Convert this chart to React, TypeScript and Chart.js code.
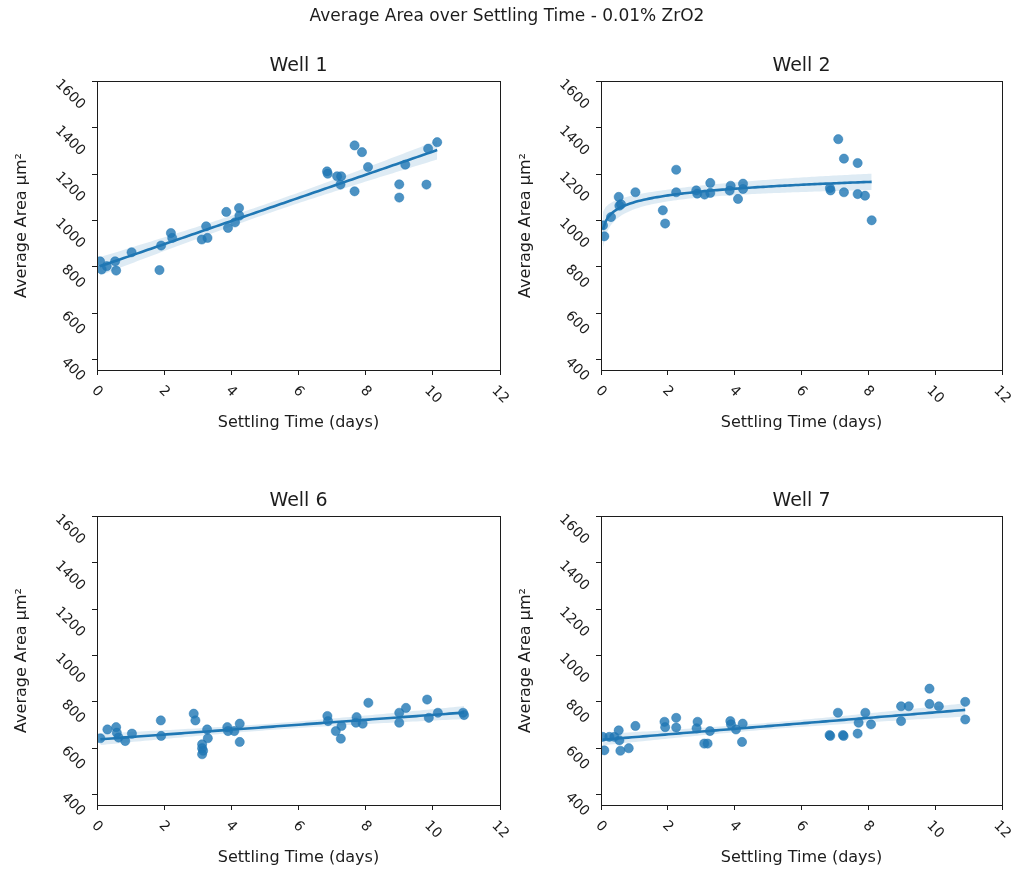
import { useEffect, useRef } from "react";
import { Chart, registerables } from "chart.js";

Chart.register(...registerables);

// ---------- text ----------
const figTitle = "Average Area over Settling Time - 0.01% ZrO2";
const xAxisTitle = "Settling Time (days)";
const yAxisTitle = "Average Area μm²";

// ---------- ticks / ranges ----------
const xTicks = [0, 2, 4, 6, 8, 10, 12];
const yTicks = [400, 600, 800, 1000, 1200, 1400, 1600];
const xRange = [0, 12];
const yRange = [355, 1602];

// ---------- data ----------
const well1Days = [0.09, 0.14, 0.29, 0.54, 0.57, 1.03, 1.86, 1.91, 2.2, 2.24, 3.12, 3.29, 3.25, 3.85, 3.9, 4.11, 4.23, 4.24, 6.85, 6.87, 7.15, 7.27, 7.25, 7.67, 7.67, 7.89, 8.07, 9.0, 9.0, 9.18, 9.81, 9.86, 10.13];
const well1Area = [824, 789, 803, 824, 784, 863, 786, 892, 946, 925, 918, 925, 975, 1037, 968, 992, 1054, 1021, 1212, 1202, 1191, 1191, 1155, 1126, 1324, 1295, 1231, 1156, 1099, 1241, 1155, 1310, 1338];

const well2Days = [0.06, 0.1, 0.3, 0.53, 0.55, 0.6, 1.03, 1.85, 1.92, 2.25, 2.25, 2.85, 2.88, 3.1, 3.27, 3.27, 3.88, 3.85, 4.1, 4.25, 4.25, 6.85, 6.87, 7.1, 7.27, 7.27, 7.68, 7.68, 7.9, 8.1];
const well2Area = [979, 932, 1015, 1102, 1064, 1070, 1122, 1044, 987, 1219, 1122, 1130, 1116, 1112, 1162, 1119, 1150, 1129, 1093, 1159, 1136, 1140, 1130, 1351, 1267, 1122, 1248, 1114, 1107, 1001];

const well6Days = [0.1, 0.31, 0.57, 0.59, 0.64, 0.84, 1.04, 1.9, 1.91, 2.88, 2.93, 3.13, 3.13, 3.16, 3.13, 3.28, 3.3, 3.88, 3.9, 4.09, 4.25, 4.25, 6.86, 6.88, 7.11, 7.26, 7.28, 7.73, 7.71, 7.91, 8.08, 9.0, 9.0, 9.2, 9.83, 9.88, 10.15, 10.9, 10.93];
const well6Area = [643, 681, 691, 667, 646, 631, 663, 720, 653, 749, 720, 617, 600, 589, 574, 681, 643, 691, 674, 674, 706, 627, 739, 717, 674, 641, 696, 734, 710, 706, 796, 753, 710, 774, 810, 731, 753, 753, 743];

const well7Days = [0.05, 0.1, 0.25, 0.4, 0.53, 0.55, 0.58, 0.83, 1.03, 1.9, 1.92, 2.25, 2.25, 2.89, 2.86, 3.09, 3.19, 3.26, 3.87, 3.89, 4.04, 4.24, 4.22, 6.84, 6.86, 7.09, 7.24, 7.26, 7.68, 7.71, 7.91, 8.08, 8.98, 8.98, 9.21, 9.83, 9.83, 10.11, 10.9, 10.9];
const well7Area = [649, 591, 649, 649, 677, 634, 589, 600, 696, 714, 691, 731, 689, 714, 686, 620, 620, 674, 717, 703, 681, 706, 627, 657, 653, 753, 657, 653, 663, 710, 753, 703, 781, 717, 781, 857, 791, 781, 800, 724];

// ---------- layout (page pixels) ----------
const FIG_W = 1018;
const FIG_H = 871;
const panels = [
  { title: "Well 1", days: well1Days, area: well1Area, logx: false, box: { left: 97, top: 81, right: 500, bottom: 370 } },
  { title: "Well 2", days: well2Days, area: well2Area, logx: true, box: { left: 601, top: 81, right: 1002, bottom: 370 } },
  { title: "Well 6", days: well6Days, area: well6Area, logx: false, box: { left: 97, top: 516, right: 500, bottom: 805 } },
  { title: "Well 7", days: well7Days, area: well7Area, logx: false, box: { left: 601, top: 516, right: 1002, bottom: 805 } },
];

const BLUE = "#1f77b4";
const INK = "#1c1c1c";
const FONT = '"DejaVu Sans", sans-serif';

// regression fit (as seaborn regplot) with analytic 95% CI band
function regression(xs: number[], ys: number[], logx: boolean) {
  const tx = logx ? xs.map((v) => Math.log(v)) : xs.slice();
  const n = tx.length;
  const mx = tx.reduce((a, b) => a + b, 0) / n;
  const my = ys.reduce((a, b) => a + b, 0) / n;
  let sxx = 0, sxy = 0;
  for (let i = 0; i < n; i++) {
    sxx += (tx[i] - mx) ** 2;
    sxy += (tx[i] - mx) * (ys[i] - my);
  }
  const b = sxy / sxx;
  const a = my - b * mx;
  let sse = 0;
  for (let i = 0; i < n; i++) sse += (ys[i] - (a + b * tx[i])) ** 2;
  const s = Math.sqrt(sse / (n - 2));
  const t = 2.02;
  const lo = Math.min(...xs);
  const hi = Math.max(...xs);
  const line: { x: number; y: number }[] = [];
  const upper: { x: number; y: number }[] = [];
  const lower: { x: number; y: number }[] = [];
  const steps = 100;
  for (let k = 0; k < steps; k++) {
    const x = lo + ((hi - lo) * k) / (steps - 1);
    const u = logx ? Math.log(x) : x;
    const yhat = a + b * u;
    const se = s * Math.sqrt(1 / n + (u - mx) ** 2 / sxx);
    line.push({ x, y: yhat });
    upper.push({ x, y: yhat + t * se });
    lower.push({ x, y: yhat - t * se });
  }
  return { line, upper, lower };
}

function makeDecor(title: string, drawFigTitle: boolean) {
  return {
    id: "decor" + title.replace(/\s/g, ""),
    afterDraw(chart: any) {
      const ctx = chart.ctx as CanvasRenderingContext2D;
      const { left, top, right, bottom } = chart.chartArea;
      ctx.save();
      // frame
      ctx.strokeStyle = INK;
      ctx.lineWidth = 1;
      ctx.strokeRect(Math.round(left) + 0.5, Math.round(top) + 0.5, Math.round(right - left), Math.round(bottom - top));

      ctx.fillStyle = INK;
      // x tick labels (rotated)
      ctx.font = `14px ${FONT}`;
      const xs = chart.scales.x;
      for (const tk of xs.ticks) {
        const px = xs.getPixelForValue(tk.value);
        const s = String(tk.value);
        const w = ctx.measureText(s).width;
        const cy = bottom + 15 + (w + 10) * 0.3536;
        ctx.save();
        ctx.translate(px, cy);
        ctx.rotate(Math.PI / 4);
        ctx.textAlign = "center";
        ctx.textBaseline = "middle";
        ctx.fillText(s, 0, 0);
        ctx.restore();
      }
      // y tick labels (rotated)
      const ys = chart.scales.y;
      for (const tk of ys.ticks) {
        const py = ys.getPixelForValue(tk.value);
        const s = String(tk.value);
        const w = ctx.measureText(s).width;
        ctx.save();
        ctx.translate(left - 14.5, py + w * 0.707 + 0.5);
        ctx.rotate(Math.PI / 4);
        ctx.textAlign = "right";
        ctx.textBaseline = "middle";
        ctx.fillText(s, 0, 0);
        ctx.restore();
      }
      // axis titles
      ctx.font = `16px ${FONT}`;
      ctx.textAlign = "center";
      ctx.textBaseline = "middle";
      ctx.fillText(xAxisTitle, (left + right) / 2, bottom + 53);
      ctx.save();
      ctx.translate(left - 75, (top + bottom) / 2);
      ctx.rotate(-Math.PI / 2);
      ctx.fillText(yAxisTitle, 0, 0);
      ctx.restore();
      // panel title
      ctx.font = `19px ${FONT}`;
      ctx.fillText(title, (left + right) / 2, top - 15);
      // figure title
      if (drawFigTitle) {
        ctx.font = `17px ${FONT}`;
        ctx.fillText(figTitle, 507, 17);
      }
      ctx.restore();
    },
  };
}

function Panel({ index }: { index: number }) {
  const ref = useRef<HTMLCanvasElement | null>(null);
  useEffect(() => {
    const p = panels[index];
    const fit = regression(p.days, p.area, p.logx);
    const pts = p.days.map((d, i) => ({ x: d, y: p.area[i] }));
    const tickLen = 5;
    const axisCommon = {
      type: "linear" as const,
      ticks: { display: false },
      grid: { display: true, drawOnChartArea: false, drawTicks: true, tickLength: tickLen, color: INK, lineWidth: 1 },
      border: { display: true, color: INK, width: 1 },
    };
    const chart = new Chart(ref.current as HTMLCanvasElement, {
      type: "scatter",
      data: {
        datasets: [
          {
            type: "line",
            data: fit.line,
            borderColor: BLUE,
            borderWidth: 2.6,
            pointRadius: 0,
            fill: false,
            tension: 0,
          } as any,
          {
            type: "scatter",
            data: pts,
            pointRadius: 4.6,
            pointBackgroundColor: "rgba(31,119,180,0.8)",
            pointBorderColor: "rgba(31,119,180,0.8)",
            pointBorderWidth: 0.6,
            showLine: false,
          } as any,
          {
            type: "line",
            data: fit.upper,
            borderColor: "rgba(0,0,0,0)",
            borderWidth: 1,
            pointRadius: 0,
            backgroundColor: "rgba(31,119,180,0.15)",
            fill: "+1",
            tension: 0,
          } as any,
          {
            type: "line",
            data: fit.lower,
            borderColor: "rgba(0,0,0,0)",
            borderWidth: 1,
            pointRadius: 0,
            fill: false,
            tension: 0,
          } as any,
        ],
      },
      options: {
        animation: false,
        responsive: false,
        devicePixelRatio: 1,
        events: [],
        layout: {
          padding: {
            left: p.box.left - tickLen,
            top: p.box.top,
            right: FIG_W - p.box.right,
            bottom: FIG_H - p.box.bottom - tickLen,
          },
        },
        plugins: { legend: { display: false }, tooltip: { enabled: false }, title: { display: false } },
        scales: {
          x: {
            ...axisCommon,
            position: "bottom",
            min: xRange[0],
            max: xRange[1],
            afterBuildTicks: (s: any) => {
              s.ticks = xTicks.map((v) => ({ value: v }));
            },
          },
          y: {
            ...axisCommon,
            position: "left",
            min: yRange[0],
            max: yRange[1],
            afterBuildTicks: (s: any) => {
              s.ticks = yTicks.map((v) => ({ value: v }));
            },
          },
        } as any,
      },
      plugins: [makeDecor(p.title, index === 0)],
    });
    return () => chart.destroy();
  }, [index]);
  return (
    <canvas
      ref={ref}
      width={FIG_W}
      height={FIG_H}
      style={{ position: "absolute", left: 0, top: 0, width: FIG_W, height: FIG_H, display: "block" }}
    />
  );
}

export default function App() {
  return (
    <div style={{ position: "absolute", left: 0, top: 0, width: FIG_W, height: FIG_H, background: "#fff", overflow: "hidden" }}>
      {panels.map((_, i) => (
        <Panel key={i} index={i} />
      ))}
    </div>
  );
}
